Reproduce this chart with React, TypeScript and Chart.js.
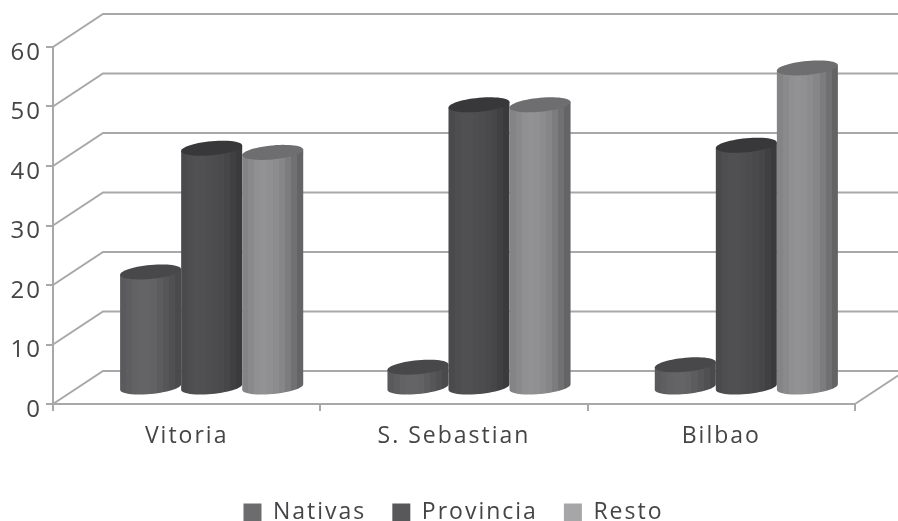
import React, { useEffect, useRef } from "react";
import { Chart, registerables } from "chart.js";

Chart.register(...registerables);

const categories = ["Vitoria", "S. Sebastian", "Bilbao"];
const nativas = [19.5, 3.5, 3.9];
const provincia = [40.3, 47.6, 40.8];
const resto = [39.6, 47.6, 53.8];

const AXIS_GREY = "#a8a8a8";
const TEXT_GREY = "#454547";
const FONT = "'Open Sans', sans-serif";

// Depth of the 3D box, and where the cylinders stand inside it.
const DEPTH_X = 50;
const DEPTH_Y = 33;
const CYL_DX = 25;
const CYL_DY = 16;
const CAP_RY = 7;
const CAP_SHEAR = 0.09;
const LEGEND_SHIFT = 26;

// Grey levels across a cylinder, left to right, for each series.
const shades: Record<string, number[]> = {
  Nativas: [0x5a, 0x5e, 0x62, 0x64, 0x64, 0x62, 0x5c, 0x56, 0x50, 0x4a],
  Provincia: [0x4a, 0x4e, 0x50, 0x50, 0x4e, 0x4c, 0x4a, 0x46, 0x40, 0x3a],
  Resto: [0x84, 0x8a, 0x90, 0x92, 0x90, 0x8c, 0x86, 0x7c, 0x70, 0x64],
};
const capShade: Record<string, string> = {
  Nativas: "#48484a",
  Provincia: "#38383a",
  Resto: "#6e6e70",
};

const grey = (v: number) => `rgb(${v},${v},${v + 2})`;

const cylinder = (ctx: CanvasRenderingContext2D, name: string, cx: number, top: number, base: number, rx: number) => {
  const yAt = (y: number, a: number) => y + CAP_RY * Math.sin(a) - CAP_SHEAR * rx * Math.cos(a);
  const band = ctx.createLinearGradient(cx - rx, 0, cx + rx, 0);
  const levels = shades[name];
  levels.forEach((v, i) => {
    band.addColorStop(i / levels.length, grey(v));
    band.addColorStop((i + 1) / levels.length, grey(v));
  });

  ctx.beginPath();
  ctx.moveTo(cx - rx, yAt(top, Math.PI));
  for (let k = 0; k <= 28; k++) {
    const a = Math.PI - (Math.PI * k) / 28;
    ctx.lineTo(cx + rx * Math.cos(a), yAt(base, a));
  }
  ctx.lineTo(cx + rx, yAt(top, 0));
  ctx.closePath();
  ctx.fillStyle = band;
  ctx.fill();

  ctx.beginPath();
  for (let k = 0; k <= 56; k++) {
    const a = (2 * Math.PI * k) / 56;
    const x = cx + rx * Math.cos(a);
    const y = yAt(top, a);
    if (k === 0) ctx.moveTo(x, y);
    else ctx.lineTo(x, y);
  }
  ctx.closePath();
  ctx.fillStyle = capShade[name];
  ctx.fill();
};

const spacedText = {
  id: "spacedText",
  beforeUpdate(chart: any) {
    chart.ctx.letterSpacing = "2px";
  },
  beforeDraw(chart: any) {
    chart.ctx.letterSpacing = "2px";
  },
  // The legend is centred on the whole page rather than on the plot box.
  afterLayout(chart: any) {
    chart.legend.left += LEGEND_SHIFT;
    chart.legend.right += LEGEND_SHIFT;
  },
};

// Walls and floor of the box, then the cylinders on top of them.
const box3d = {
  id: "box3d",
  beforeDatasetsDraw(chart: any) {
    const { ctx, chartArea, scales } = chart;
    const y = scales.y;
    const left = chartArea.left;
    const right = chartArea.right;
    ctx.save();
    ctx.strokeStyle = AXIS_GREY;
    ctx.lineWidth = 2;
    y.ticks.forEach((t: any) => {
      const py = y.getPixelForValue(t.value);
      ctx.beginPath();
      ctx.moveTo(left, py);
      ctx.lineTo(left + DEPTH_X, py - DEPTH_Y);
      ctx.lineTo(right + DEPTH_X, py - DEPTH_Y);
      ctx.stroke();
    });
    const floor = y.getPixelForValue(0);
    ctx.beginPath();
    ctx.moveTo(right, floor);
    ctx.lineTo(right + DEPTH_X, floor - DEPTH_Y);
    ctx.stroke();

    chart.data.datasets.forEach((ds: any, i: number) => {
      const meta = chart.getDatasetMeta(i);
      meta.data.forEach((bar: any) => {
        const p = bar.getProps(["x", "y", "base", "width"], true);
        cylinder(ctx, ds.label, p.x + CYL_DX, p.y - CYL_DY, p.base - CYL_DY, p.width / 2);
      });
    });
    ctx.restore();
  },
  beforeDatasetDraw() {
    return false;
  },
};

export default function App() {
  const ref = useRef<HTMLCanvasElement>(null);
  useEffect(() => {
    const chart = new Chart(ref.current!, {
      type: "bar",
      data: {
        labels: categories,
        datasets: [
          { label: "Nativas", data: nativas, backgroundColor: "#6c6c6e", borderWidth: 0 },
          { label: "Provincia", data: provincia, backgroundColor: "#58585a", borderWidth: 0 },
          { label: "Resto", data: resto, backgroundColor: "#a6a6a8", borderWidth: 0 },
        ],
      },
      options: {
        responsive: false,
        animation: false,
        layout: { padding: { top: 47, right: 43, bottom: -13, left: 0 } },
        datasets: { bar: { categoryPercentage: 0.685, barPercentage: 1 } },
        scales: {
          x: {
            afterFit: (s: any) => {
              s.height = 71;
            },
            grid: { drawOnChartArea: false, drawTicks: true, tickLength: 7, color: AXIS_GREY, lineWidth: 2 },
            border: { color: AXIS_GREY, width: 2 },
            ticks: { color: TEXT_GREY, font: { family: FONT, size: 23 }, padding: 12, maxRotation: 0 },
          },
          y: {
            min: 0,
            max: 60,
            afterFit: (s: any) => {
              s.width = 53;
            },
            grid: { drawOnChartArea: false, drawTicks: true, tickLength: 7, color: AXIS_GREY, lineWidth: 2 },
            border: { color: AXIS_GREY, width: 2 },
            ticks: {
              stepSize: 10,
              color: TEXT_GREY,
              font: { family: FONT, size: 24, lineHeight: 0.5 },
              padding: 4,
              // An empty first line sets the numerals slightly below their tick.
              callback: (v: any) => ["", String(v)],
            },
          },
        },
        plugins: {
          tooltip: { enabled: false },
          legend: {
            position: "bottom",
            labels: {
              boxWidth: 18,
              boxHeight: 18,
              padding: 26,
              color: TEXT_GREY,
              font: { family: FONT, size: 23 },
            },
          },
        },
      },
      plugins: [spacedText, box3d],
    } as any);
    return () => chart.destroy();
  }, []);
  return (
    <canvas
      ref={ref}
      width={898}
      height={521}
      style={{ position: "absolute", left: 0, top: 0, display: "block", width: 898, height: 521 }}
    />
  );
}
